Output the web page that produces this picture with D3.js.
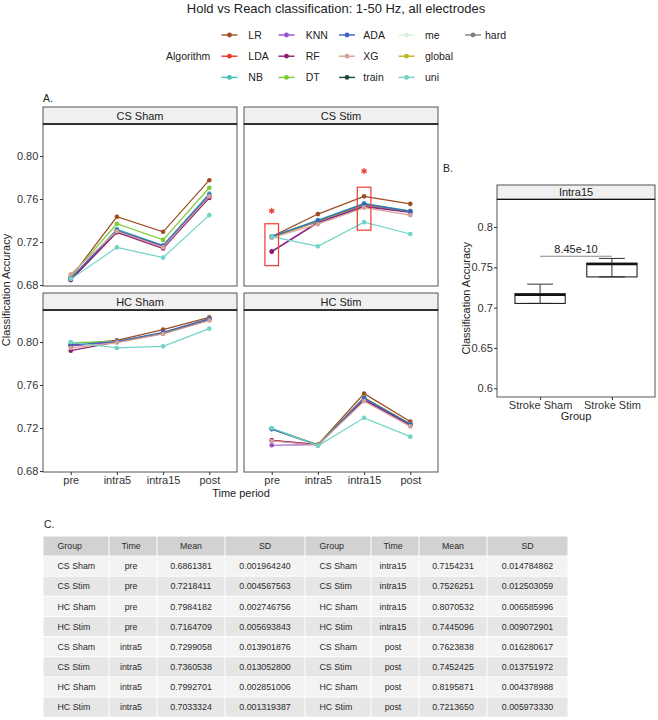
<!DOCTYPE html>
<html><head><meta charset="utf-8">
<script src="https://cdn.jsdelivr.net/npm/d3@7"></script>
<style>
body{margin:0;background:#fff}
svg{display:block}
text{font-family:"Liberation Sans",Arial,Helvetica,sans-serif}
</style>
</head><body>
<svg id="chart" width="658" height="720"></svg>
<script>
// ---------------- DATA ----------------
const plotTitle = "Hold vs Reach classification: 1-50 Hz, all electrodes";
const timePoints = ["pre", "intra5", "intra15", "post"];
const facetNames = ["CS Sham", "CS Stim", "HC Sham", "HC Stim"];
const algorithms = ["LR","LDA","NB","KNN","RF","DT","ADA","XG","train","me","global","uni","hard"];
const algColors  = ["#9C4B22","#E8342A","#40C0B2","#9650C8","#8C1B6C","#7BCB34","#3D62C2","#D4A298","#1F4B36","#DCF2DC","#BBB61E","#70D5C6","#808080"];
const plottedAlgs = ["LR","LDA","NB","KNN","RF","DT","ADA","XG","uni"];

// accuracy per algorithm: [pre, intra5, intra15, post]
const accCSSham = {
  LR:[0.6870,0.7435,0.7295,0.7775], LDA:[0.6860,0.7305,0.7160,0.7630], NB:[0.6855,0.7320,0.7170,0.7650],
  KNN:[0.6850,0.7295,0.7150,0.7615], RF:[0.6845,0.7290,0.7140,0.7610], DT:[0.6880,0.7370,0.7220,0.7705],
  ADA:[0.6860,0.7310,0.7165,0.7640], XG:[0.6900,0.7300,0.7150,0.7625], uni:[0.6855,0.7150,0.7055,0.7450]
};
const accCSStim = {
  LR:[0.7250,0.7460,0.7625,0.7555], LDA:[0.7245,0.7390,0.7545,0.7480], NB:[0.7250,0.7405,0.7560,0.7490],
  KNN:[0.7115,0.7385,0.7535,0.7480], RF:[0.7110,0.7380,0.7530,0.7475], DT:[0.7245,0.7395,0.7550,0.7485],
  ADA:[0.7250,0.7400,0.7555,0.7485], XG:[0.7240,0.7365,0.7520,0.7450], uni:[0.7250,0.7160,0.7385,0.7275]
};
const accHCSham = {
  LR:[0.7975,0.8015,0.8115,0.8230], LDA:[0.7970,0.8005,0.8085,0.8215], NB:[0.7990,0.8005,0.8085,0.8210],
  KNN:[0.7965,0.8000,0.8080,0.8210], RF:[0.7920,0.8000,0.8080,0.8205], DT:[0.7995,0.8005,0.8085,0.8215],
  ADA:[0.7970,0.8005,0.8090,0.8215], XG:[0.7945,0.7995,0.8075,0.8200], uni:[0.8000,0.7945,0.7960,0.8125]
};
const accHCStim = {
  LR:[0.7195,0.7045,0.7520,0.7260], LDA:[0.7085,0.7045,0.7480,0.7240], NB:[0.7190,0.7040,0.7475,0.7235],
  KNN:[0.7040,0.7045,0.7465,0.7230], RF:[0.7085,0.7045,0.7460,0.7225], DT:[0.7195,0.7045,0.7485,0.7240],
  ADA:[0.7190,0.7040,0.7480,0.7235], XG:[0.7080,0.7040,0.7450,0.7215], uni:[0.7200,0.7035,0.7295,0.7120]
};
const yTicksA = [0.68, 0.72, 0.76, 0.80];
const yDomainA = [0.6791, 0.8298];

// significance markers in CS Stim: [time, box low, box high, star]
const sigTimes = ["pre", "intra15"];
const sigLow   = [0.6980, 0.7310];
const sigHigh  = [0.7370, 0.7710];
const sigStar  = [0.7490, 0.7860];

// Panel B boxplot
const boxTitle = "Intra15";
const boxGroups = ["Stroke Sham", "Stroke Stim"];
const boxMin    = [0.7052, 0.7381];
const boxQ1     = [0.7052, 0.7381];
const boxMedian = [0.7157, 0.7539];
const boxQ3     = [0.7173, 0.7552];
const boxMax    = [0.7291, 0.7610];
const yTicksB = [0.6, 0.65, 0.7, 0.75, 0.8];
const yDomainB = [0.5892, 0.8343];
const pValueLabel = "8.45e-10";
const pBracketY = 0.7637;

// Panel C table
const tableHeader = ["Group","Time","Mean","SD","Group","Time","Mean","SD"];
const tableGroups = ["CS Sham","CS Stim","HC Sham","HC Stim","CS Sham","CS Stim","HC Sham","HC Stim"];
const tableTimeL  = ["pre","pre","pre","pre","intra5","intra5","intra5","intra5"];
const tableMeanL  = ["0.6861381","0.7218411","0.7984182","0.7164709","0.7299058","0.7360538","0.7992701","0.7033324"];
const tableSDL    = ["0.001964240","0.004567563","0.002746756","0.005693843","0.013901876","0.013052800","0.002851006","0.001319387"];
const tableTimeR  = ["intra15","intra15","intra15","intra15","post","post","post","post"];
const tableMeanR  = ["0.7154231","0.7526251","0.8070532","0.7445096","0.7623838","0.7452425","0.8195871","0.7213650"];
const tableSDR    = ["0.014784862","0.012503059","0.006585996","0.009072901","0.016280617","0.013751972","0.004378988","0.005973330"];

// ---------------- DRAW ----------------
const svg = d3.select("#chart");
const colorOf = d3.scaleOrdinal().domain(algorithms).range(algColors);
const facetData = [accCSSham, accCSStim, accHCSham, accHCStim];
const TXT = "#333";

svg.append("rect").attr("width",658).attr("height",720).attr("fill","#fff");

// title
svg.append("text").attr("x",336).attr("y",13).attr("text-anchor","middle")
  .attr("font-size",13).attr("fill","#222").text(plotTitle);

// legend
const legKeyX = [229.5, 286.5, 347, 406.5, 473];
const legTextX = [248.3, 305.7, 363.3, 425, 485];
const legRowY = [35, 56.2, 77.4];
svg.append("text").attr("x",166).attr("y",legRowY[1]+3.8).attr("font-size",10.5).attr("fill","#222").text("Algorithm");
algorithms.forEach((a,i)=>{
  const col = Math.floor(i/3), row = i%3;
  const cx = legKeyX[col], cy = legRowY[row];
  svg.append("line").attr("x1",cx-8).attr("x2",cx+8).attr("y1",cy).attr("y2",cy)
    .attr("stroke",colorOf(a)).attr("stroke-width",1.4);
  svg.append("circle").attr("cx",cx).attr("cy",cy).attr("r",2.4).attr("fill",colorOf(a));
  svg.append("text").attr("x",legTextX[col]).attr("y",cy+3.8).attr("font-size",10.5).attr("fill","#222").text(a);
});

// Panel A
svg.append("text").attr("x",43).attr("y",102).attr("font-size",10.5).attr("fill","#222").text("A.");
const colX = [43, 244], rowTop = [107, 293], panelW = 194, panelH = 162, stripH = 17;

function styleAxis(g){
  g.select(".domain").remove();
  g.selectAll(".tick line").attr("stroke","#333");
  g.selectAll(".tick text").attr("font-size",11).attr("fill",TXT)
    .attr("font-family",'"Liberation Sans",Arial,Helvetica,sans-serif');
}

facetNames.forEach((name,i)=>{
  const r = Math.floor(i/2), c = i%2;
  const x0 = colX[c], top = rowTop[r], pTop = top+stripH, pBot = pTop+panelH;
  const x = d3.scalePoint().domain(timePoints).range([x0, x0+panelW]).padding(0.6);
  const y = d3.scaleLinear().domain(yDomainA).range([pBot, pTop]);
  const g = svg.append("g");
  g.append("rect").attr("x",x0).attr("y",pTop).attr("width",panelW).attr("height",panelH).attr("fill","#fff");
  const line = d3.line().x((d,k)=>x(timePoints[k])).y(d=>y(d));
  const data = facetData[i];
  plottedAlgs.forEach(a=>{
    const vals = data[a];
    g.append("path").datum(vals).attr("d",line).attr("fill","none")
      .attr("stroke",colorOf(a)).attr("stroke-width",1.2);
    g.selectAll(null).data(vals).enter().append("circle")
      .attr("cx",(d,k)=>x(timePoints[k])).attr("cy",d=>y(d)).attr("r",2.3).attr("fill",colorOf(a));
  });
  if(name === "CS Stim"){
    sigTimes.forEach((t,k)=>{
      const cx = x(t);
      g.append("rect").attr("x",cx-6.8).attr("width",13.6)
        .attr("y",y(sigHigh[k])).attr("height",y(sigLow[k])-y(sigHigh[k]))
        .attr("fill","none").attr("stroke","#EE3B2E").attr("stroke-width",1.2);
      const sy = y(sigStar[k]);
      [0,60,120].forEach(ang=>{
        const rad = ang*Math.PI/180, rr = 3;
        g.append("line").attr("x1",cx-rr*Math.sin(rad)).attr("x2",cx+rr*Math.sin(rad))
          .attr("y1",sy-rr*Math.cos(rad)).attr("y2",sy+rr*Math.cos(rad))
          .attr("stroke","#EE3B2E").attr("stroke-width",1.3);
      });
    });
  }
  g.append("rect").attr("x",x0).attr("y",pTop).attr("width",panelW).attr("height",panelH)
    .attr("fill","none").attr("stroke","#555").attr("stroke-width",1);
  g.append("rect").attr("x",x0).attr("y",top).attr("width",panelW).attr("height",stripH)
    .attr("fill","#F0F0F0").attr("stroke","#555").attr("stroke-width",1);
  g.append("line").attr("x1",x0).attr("x2",x0+panelW).attr("y1",pTop).attr("y2",pTop)
    .attr("stroke","#111").attr("stroke-width",1.4);
  g.append("text").attr("x",x0+panelW/2).attr("y",top+stripH/2+4).attr("text-anchor","middle")
    .attr("font-size",11).attr("fill","#222").text(name);
  if(c===0){
    const ax = g.append("g").attr("transform",`translate(${x0},0)`)
      .call(d3.axisLeft(y).tickValues(yTicksA).tickFormat(d3.format(".2f")).tickSize(3).tickPadding(1.7));
    styleAxis(ax);
  }
  if(r===1){
    const ax = g.append("g").attr("transform",`translate(0,${pBot})`)
      .call(d3.axisBottom(x).tickSize(3).tickPadding(1.5));
    styleAxis(ax);
  }
});
svg.append("text").attr("transform","translate(9.5,290) rotate(-90)").attr("text-anchor","middle")
  .attr("font-size",11).attr("fill","#222").text("Classification Accuracy");
svg.append("text").attr("x",241).attr("y",497).attr("text-anchor","middle")
  .attr("font-size",11).attr("fill","#222").text("Time period");

// Panel B
svg.append("text").attr("x",443).attr("y",172).attr("font-size",10.5).attr("fill","#222").text("B.");
const bx0 = 497, bx1 = 655, bTop = 185, bStripH = 14.3, bpTop = bTop+bStripH, bpBot = 397;
const xb = d3.scalePoint().domain(boxGroups).range([bx0,bx1]).padding(0.6);
const yb = d3.scaleLinear().domain(yDomainB).range([bpBot,bpTop]);
const gb = svg.append("g");
gb.append("rect").attr("x",bx0).attr("y",bpTop).attr("width",bx1-bx0).attr("height",bpBot-bpTop).attr("fill","#fff");
const bw = xb.step()*0.7, capW = xb.step()*0.36;
boxGroups.forEach((grp,i)=>{
  const cx = xb(grp);
  gb.append("line").attr("x1",cx).attr("x2",cx).attr("y1",yb(boxMin[i])).attr("y2",yb(boxMax[i]))
    .attr("stroke","#333").attr("stroke-width",1);
  [boxMin[i], boxMax[i]].forEach(v=>{
    gb.append("line").attr("x1",cx-capW/2).attr("x2",cx+capW/2).attr("y1",yb(v)).attr("y2",yb(v))
      .attr("stroke","#333").attr("stroke-width",1);
  });
  gb.append("rect").attr("x",cx-bw/2).attr("width",bw).attr("y",yb(boxQ3[i])).attr("height",yb(boxQ1[i])-yb(boxQ3[i]))
    .attr("fill","none").attr("stroke","#222").attr("stroke-width",1.1);
  gb.append("line").attr("x1",cx-bw/2).attr("x2",cx+bw/2).attr("y1",yb(boxMedian[i])).attr("y2",yb(boxMedian[i]))
    .attr("stroke","#111").attr("stroke-width",2.3);
});
gb.append("line").attr("x1",xb(boxGroups[0])).attr("x2",xb(boxGroups[1]))
  .attr("y1",yb(pBracketY)).attr("y2",yb(pBracketY)).attr("stroke","#8a8a8a").attr("stroke-width",1.2);
gb.append("text").attr("x",(xb(boxGroups[0])+xb(boxGroups[1]))/2).attr("y",yb(pBracketY)-3.2)
  .attr("text-anchor","middle").attr("font-size",11).attr("fill","#222").text(pValueLabel);
gb.append("rect").attr("x",bx0).attr("y",bpTop).attr("width",bx1-bx0).attr("height",bpBot-bpTop)
  .attr("fill","none").attr("stroke","#555").attr("stroke-width",1);
gb.append("rect").attr("x",bx0).attr("y",bTop).attr("width",bx1-bx0).attr("height",bStripH)
  .attr("fill","#F0F0F0").attr("stroke","#555").attr("stroke-width",1);
gb.append("line").attr("x1",bx0).attr("x2",bx1).attr("y1",bpTop).attr("y2",bpTop)
  .attr("stroke","#111").attr("stroke-width",1.3);
gb.append("text").attr("x",(bx0+bx1)/2).attr("y",bTop+bStripH/2+4).attr("text-anchor","middle")
  .attr("font-size",11).attr("fill","#222").text(boxTitle);
styleAxis(gb.append("g").attr("transform",`translate(${bx0},0)`)
  .call(d3.axisLeft(yb).tickValues(yTicksB).tickFormat(d3.format("~g")).tickSize(3).tickPadding(1.2)));
styleAxis(gb.append("g").attr("transform",`translate(0,${bpBot})`)
  .call(d3.axisBottom(xb).tickSize(3).tickPadding(1.5)));
svg.append("text").attr("transform",`translate(470,${(bpTop+bpBot)/2}) rotate(-90)`).attr("text-anchor","middle")
  .attr("font-size",11).attr("fill","#222").text("Classification Accuracy");
svg.append("text").attr("x",(bx0+bx1)/2).attr("y",420).attr("text-anchor","middle")
  .attr("font-size",11).attr("fill","#222").text("Group");

// Panel C table
svg.append("text").attr("x",44).attr("y",528).attr("font-size",10.5).attr("fill","#222").text("C.");
const tColX = [43,109,157,225,305,371,419,487,568];
const tTop = 536, tHeadH = 20, tRowH = 20.15;
const tg = svg.append("g");
function cell(j, yy, h, fill, label, isGroup, isTime){
  const xL = tColX[j], xR = tColX[j+1];
  tg.append("rect").attr("x",xL+0.5).attr("y",yy+0.5).attr("width",xR-xL-1).attr("height",h-1).attr("fill",fill);
  const t = tg.append("text").attr("y",yy+h/2+3.2).attr("font-size",8.8).attr("fill","#2b2b2b").text(label);
  if(isGroup) t.attr("x",xL+14.5);
  else t.attr("x",(xL+xR)/2 - (isTime?2:0)).attr("text-anchor","middle");
}
tableHeader.forEach((h,j)=> cell(j, tTop, tHeadH, "#D2D2D2", h, j%4===0, j%4===1));
tableGroups.forEach((grp,i)=>{
  const yy = tTop + tHeadH + i*tRowH;
  const fill = i%2===0 ? "#F3F3F3" : "#E6E6E6";
  const rowVals = [grp, tableTimeL[i], tableMeanL[i], tableSDL[i], grp, tableTimeR[i], tableMeanR[i], tableSDR[i]];
  rowVals.forEach((v,j)=> cell(j, yy, tRowH, fill, v, j%4===0, j%4===1));
});
</script>
</body></html>
